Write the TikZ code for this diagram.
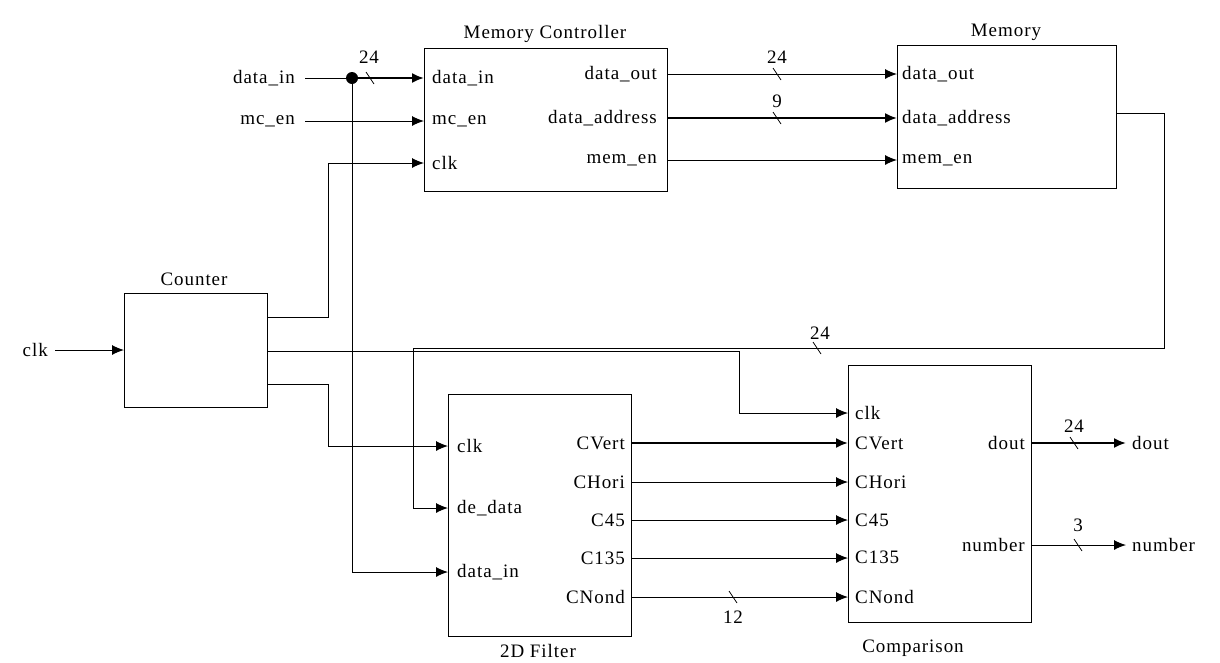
\documentclass[tikz,border=0pt]{standalone}
\usepackage{fontspec}
\setmainfont{Liberation Serif}[LetterSpace=5]
\usetikzlibrary{arrows.meta}
\begin{document}
\begin{tikzpicture}[x=1pt,y=-1pt,
  blk/.style={draw,line width=1pt,inner sep=0pt},
  txt/.style={inner sep=0pt,font=\fontsize{19}{19}\selectfont},
  wire/.style={line width=1pt},
  bus/.style={line width=2pt},
  arr/.style={-{Latex[length=12pt,width=10pt]}},
  slash/.style={line width=0.8pt}]
\useasboundingbox (0,0) rectangle (1220,662);

% blocks
\node[blk,minimum width=243pt,minimum height=143pt] (mc) at (545.5,119.5) {};
\node[blk,minimum width=219pt,minimum height=143pt] (mem) at (1006.5,116.5) {};
\node[blk,minimum width=143pt,minimum height=114pt] (cnt) at (195.5,350) {};
\node[blk,minimum width=183pt,minimum height=242pt] (flt) at (539.5,515) {};
\node[blk,minimum width=183pt,minimum height=257pt] (cmp) at (939.5,493.5) {};

% titles
\node[txt] (tmc) at (545,34) {Memory Controller};
\node[txt] (tmem) at (1006,32) {Memory};
\node[txt] (tcnt) at (194,279) {Counter};
\node[txt] (tflt) at (538,651) {2D Filter};
\node[txt] (tcmp) at (913,648) {Comparison};

% port labels
\node[txt,anchor=west] (mcdi) at (432,78) {data\_in};
\node[txt,anchor=west] (mcen) at (432,121) {mc\_en};
\node[txt,anchor=west] (mcclk) at (432,163) {clk};
\node[txt,anchor=east] (mcdo) at (657,74) {data\_out};
\node[txt,anchor=east] (mcda) at (657,118) {data\_address};
\node[txt,anchor=east] (mcme) at (657,160) {mem\_en};

\node[txt,anchor=west] (mdo) at (902,74) {data\_out};
\node[txt,anchor=west] (mda) at (902,118) {data\_address};
\node[txt,anchor=west] (mme) at (902,160) {mem\_en};

\node[txt,anchor=west] (fclk) at (457,446) {clk};
\node[txt,anchor=west] (fde) at (457,508) {de\_data};
\node[txt,anchor=west] (fdi) at (457,572) {data\_in};
\node[txt,anchor=east] (fcv) at (625,443) {CVert};
\node[txt,anchor=east] (fch) at (625,482) {CHori};
\node[txt,anchor=east] (fc45) at (625,520) {C45};
\node[txt,anchor=east] (fc135) at (625,558) {C135};
\node[txt,anchor=east] (fcn) at (625,597) {CNond};

\node[txt,anchor=west] (cclk) at (855,413) {clk};
\node[txt,anchor=west] (ccv) at (855,443) {CVert};
\node[txt,anchor=west] (cch) at (855,482) {CHori};
\node[txt,anchor=west] (cc45) at (855,520) {C45};
\node[txt,anchor=west] (cc135) at (855,557) {C135};
\node[txt,anchor=west] (ccn) at (855,597) {CNond};
\node[txt,anchor=east] (cdout) at (1025,443) {dout};
\node[txt,anchor=east] (cnum) at (1025,545) {number};

% external labels
\node[txt,anchor=east] (xdi) at (295,78) {data\_in};
\node[txt,anchor=east] (xen) at (295,121) {mc\_en};
\node[txt,anchor=east] (xclk) at (48,350) {clk};
\node[txt,anchor=west] (xdout) at (1132,443) {dout};
\node[txt,anchor=west] (xnum) at (1132,545) {number};

% port coordinates
\coordinate (pMCdi) at (424,78);
\coordinate (pMCen) at (424,121);
\coordinate (pMCclk) at (424,163);
\coordinate (pMCdo) at (667,74);
\coordinate (pMCda) at (667,118);
\coordinate (pMCme) at (667,160);
\coordinate (pMdo) at (897,74);
\coordinate (pMda) at (897,118);
\coordinate (pMme) at (897,160);
\coordinate (pMout) at (1116,113);
\coordinate (pCin) at (124,350);
\coordinate (pCo1) at (267,317);
\coordinate (pCo2) at (267,351);
\coordinate (pCo3) at (267,384);
\coordinate (pFclk) at (448,446);
\coordinate (pFde) at (448,508);
\coordinate (pFdi) at (448,572);
\coordinate (pFcv) at (631,443);
\coordinate (pFch) at (631,482);
\coordinate (pFc45) at (631,520);
\coordinate (pFc135) at (631,558);
\coordinate (pFcn) at (631,597);
\coordinate (pKclk) at (848,413);
\coordinate (pKcv) at (848,443);
\coordinate (pKch) at (848,482);
\coordinate (pKc45) at (848,520);
\coordinate (pKc135) at (848,558);
\coordinate (pKcn) at (848,597);
\coordinate (pKdout) at (1031,443);
\coordinate (pKnum) at (1031,545);
\coordinate (eDout) at (1126,443);
\coordinate (eNum) at (1126,545);
\coordinate (sDi) at (305,78);
\coordinate (sEn) at (305,121);
\coordinate (sClk) at (55,350);
\coordinate (j) at (352,78);

% inputs of memory controller
\draw[wire] (sDi) -- (j);
\draw[bus,arr] (j) -- (pMCdi);
\fill (j) circle (6pt);
\draw[wire,arr] (sEn) -- (pMCen);
\draw[wire,arr] (j) |- (pFdi);

% clk to counter
\draw[wire,arr] (sClk) -- (pCin);

% counter outputs
\draw[wire,arr] (pCo1) -- (328,317) |- (pMCclk);
\draw[wire,arr] (pCo2) -- (739,351) |- (pKclk);
\draw[wire,arr] (pCo3) -- (328,384) |- (pFclk);

% controller to memory
\draw[wire,arr] (pMCdo) -- (pMdo);
\draw[bus,arr] (pMCda) -- (pMda);
\draw[wire,arr] (pMCme) -- (pMme);

% memory feedback
\draw[wire,arr] (pMout) -- (1164,113) -- (1164,348) -- (413,348) |- (pFde);

% filter to comparison
\draw[bus,arr] (pFcv) -- (pKcv);
\draw[wire,arr] (pFch) -- (pKch);
\draw[wire,arr] (pFc45) -- (pKc45);
\draw[wire,arr] (pFc135) -- (pKc135);
\draw[wire,arr] (pFcn) -- (pKcn);

% comparison outputs
\draw[bus,arr] (pKdout) -- (eDout);
\draw[wire,arr] (pKnum) -- (eNum);

% bus slashes
\foreach \p in {(370,78),(777,74),(777,118),(817,348),(733,597),(1074,443),(1078,545)}
  \draw[slash] \p ++(-4,-6) -- ++(8,12);

% bus widths
\node[txt] (w1) at (369,57) {24};
\node[txt] (w2) at (777,57) {24};
\node[txt] (w3) at (777,101) {9};
\node[txt] (w4) at (820,333) {24};
\node[txt] (w5) at (733,617) {12};
\node[txt] (w6) at (1074,426) {24};
\node[txt] (w7) at (1078,525) {3};
\end{tikzpicture}
\end{document}
